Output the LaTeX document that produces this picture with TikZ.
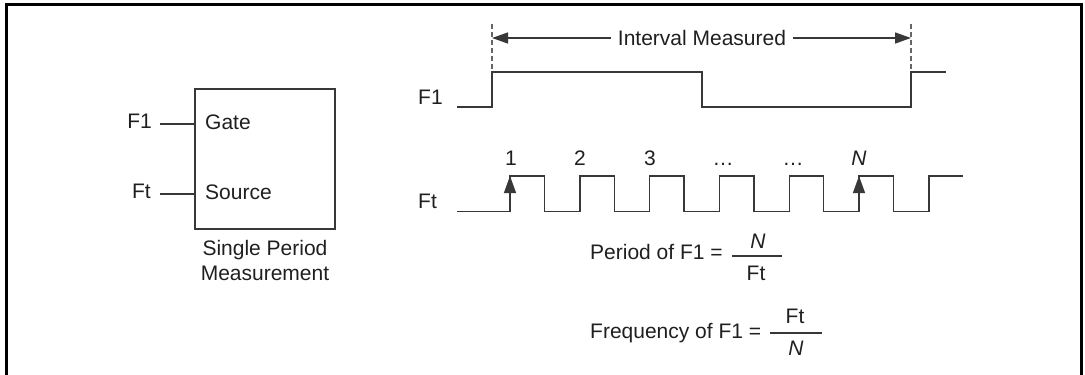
\documentclass[tikz,border=0pt]{standalone}
\usepackage{fontspec}
\setmainfont{Liberation Sans}
\usetikzlibrary{arrows.meta}
\begin{document}
\begin{tikzpicture}[x=1pt,y=-1pt,
  txt/.style={inner sep=0pt, font=\fontsize{21}{25}\selectfont, text=black!88},
  wave/.style={line width=1.4pt, draw=black!78, line join=miter, line cap=butt},
  dashv/.style={line width=1.2pt, draw=black!60, dash pattern=on 5pt off 3pt},
  frame/.style={line width=2.6pt, draw=black, line join=miter},
  hdarrow/.style={wave, -{Triangle[length=16pt,width=11pt]}},
  uparrow/.style={wave, -{Triangle[length=17pt,width=12pt]}},
  fracbar/.style={line width=1.2pt, draw=black!78}
]
\useasboundingbox (0,0) rectangle (1085,375);
% outer frame
\draw[frame] (6.5,375) -- (6.5,4.5) -- (1081.5,4.5) -- (1081.5,375);

% ---- left block ----
\node[draw=black!78, line width=1.4pt, minimum width=140pt, minimum height=140pt, inner sep=0pt] (box) at (265,159) {};
\node[txt, anchor=base west] (gate) at (205,129) {Gate};
\node[txt, anchor=base west] (source) at (205,199) {Source};
\node[txt, anchor=base east] (f1in) at (152,128) {F1};
\node[txt, anchor=base east] (ftin) at (151,198) {Ft};
\coordinate (f1end) at (160,124);
\coordinate (gpin) at (195,124);
\coordinate (ftend) at (160,194);
\coordinate (spin) at (195,194);
\draw[wave] (f1end) -- (gpin);
\draw[wave] (ftend) -- (spin);
\node[txt, anchor=base] (spm1) at (265,255) {Single Period};
\node[txt, anchor=base] (spm2) at (265,280) {Measurement};

% ---- interval measured ----
\coordinate (dl) at (492,38);
\coordinate (dr) at (911,38);
\draw[dashv] (492,24) -- (492,72);
\draw[dashv] (911,24) -- (911,72);
\node[txt, anchor=base, inner xsep=7pt] (im) at (702,45) {Interval Measured};
\draw[hdarrow] (im.west |- dl) -- (dl);
\draw[hdarrow] (im.east |- dr) -- (dr);

% ---- F1 waveform ----
\node[txt, anchor=base west] (f1w) at (418,104) {F1};
\draw[wave] (457,107) -- (492,107) -- (492,72) -- (702,72) -- (702,107) -- (911,107) -- (911,72) -- (946,72);

% ---- Ft waveform ----
\node[txt, anchor=base west] (ftw) at (418,208) {Ft};
\draw[wave] (457,211.5) -- (510,211.5) -- (510,176) -- (544.5,176) -- (544.5,211.5)
  -- (579.8,211.5) -- (579.8,176) -- (614.3,176) -- (614.3,211.5)
  -- (649.6,211.5) -- (649.6,176) -- (684.1,176) -- (684.1,211.5)
  -- (719.4,211.5) -- (719.4,176) -- (753.9,176) -- (753.9,211.5)
  -- (789.2,211.5) -- (789.2,176) -- (823.7,176) -- (823.7,211.5)
  -- (859,211.5) -- (859,176) -- (893.5,176) -- (893.5,211.5)
  -- (928.8,211.5) -- (928.8,176) -- (963,176);
\coordinate (a1lo) at (510,211.5);
\coordinate (a1hi) at (510,176);
\coordinate (aNlo) at (859,211.5);
\coordinate (aNhi) at (859,176);
\draw[uparrow] (a1lo) -- (a1hi);
\draw[uparrow] (aNlo) -- (aNhi);
\node[txt, anchor=base] (p1) at (511,165) {1};
\node[txt, anchor=base] (p2) at (580,165) {2};
\node[txt, anchor=base] (p3) at (650,165) {3};
\node[txt, anchor=base] (p4) at (723,165) {…};
\node[txt, anchor=base] (p5) at (793,165) {…};
\node[txt, anchor=base] (pN) at (859,165) {\textit{N}};

% ---- formulas ----
\node[txt, anchor=base west] (per) at (590,259) {Period of F1 =};
\coordinate (pb1) at (732,256);
\coordinate (pb2) at (782,256);
\draw[fracbar] (pb1) -- (pb2);
\node[txt, anchor=base] (pn) at (758,248) {\textit{N}};
\node[txt, anchor=base] (pd) at (756,280) {Ft};

\node[txt, anchor=base west] (freq) at (590,338) {Frequency of F1 =};
\coordinate (fb1) at (770,333);
\coordinate (fb2) at (822,333);
\draw[fracbar] (fb1) -- (fb2);
\node[txt, anchor=base] (fn) at (795,323) {Ft};
\node[txt, anchor=base] (fd) at (796,355) {\textit{N}};
\end{tikzpicture}
\end{document}
